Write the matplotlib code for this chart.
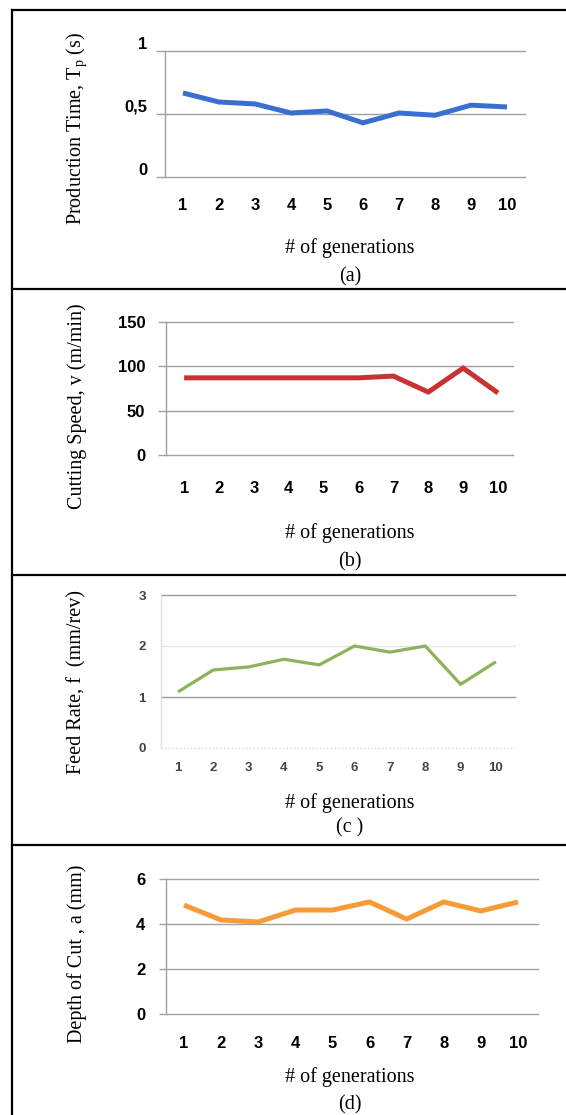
import numpy as np
import matplotlib
matplotlib.use("Agg")
from matplotlib import pyplot as plt
from matplotlib.lines import Line2D
from matplotlib.transforms import ScaledTranslation
from matplotlib import font_manager

plt.rcParams['mathtext.fontset'] = 'custom'
plt.rcParams['mathtext.rm'] = 'Liberation Serif'

generations = np.arange(1, 11)
prod_time = [0.667, 0.595, 0.58, 0.508, 0.524, 0.43, 0.508, 0.49, 0.57, 0.556]
cut_speed = [87, 87, 87, 87, 87, 87, 89, 71, 98, 70]
feed_rate = [1.10, 1.53, 1.59, 1.74, 1.63, 2.0, 1.88, 2.0, 1.25, 1.69]
depth_cut = [4.84, 4.18, 4.09, 4.62, 4.62, 4.98, 4.22, 4.98, 4.58, 4.98]

W, H = 566, 1115
fig = plt.figure(figsize=(W / 100, H / 100), dpi=100)

serif = 'Liberation Serif'
names = {f.name for f in font_manager.fontManager.ttflist}
narrow = [n for n in ['Liberation Sans Narrow', 'DejaVu Sans Condensed'] if n in names]
tickfont = narrow + ['Liberation Sans']
print(narrow)
grid_c = '#a0a0a0'


def px_axes(x0, x1, y0, y1):
    # pixel box (top-left origin) -> figure fraction
    return fig.add_axes([x0 / W, (H - y1) / H, (x1 - x0) / W, (y1 - y0) / H])


def style(ax, yticks, ylabels, xlim, xpad, ypad, ticklen, color, lw, data,
          tcol='black', tsize=12, tweight='bold'):
    ax.plot(generations, data, color=color, lw=lw, solid_capstyle='butt',
            solid_joinstyle='miter', zorder=3)
    ax.set_xlim(*xlim)
    ax.set_ylim(yticks[0], yticks[-1])
    for s in ['top', 'right', 'bottom']:
        ax.spines[s].set_visible(False)
    ax.spines['left'].set_color(grid_c)
    ax.spines['left'].set_linewidth(1.0)
    for y in yticks:
        ax.axhline(y, color=grid_c, lw=1.0, zorder=1, clip_on=False)
    ax.set_xticks(generations)
    ax.set_xticklabels([str(g) for g in generations], fontfamily=tickfont,
                       fontweight=tweight, fontsize=tsize, color=tcol,
                       fontstretch='condensed')
    ax.set_yticks(yticks)
    ax.set_yticklabels(ylabels, fontfamily=tickfont, fontweight=tweight,
                       fontsize=tsize, color=tcol, fontstretch='condensed')
    ax.tick_params(axis='x', length=0, pad=xpad)
    ax.tick_params(axis='y', length=ticklen, width=1.0, color=grid_c, pad=ypad)
    ax.patch.set_alpha(0)


# (a)
ax1 = px_axes(165, 525, 51, 177)
style(ax1, [0, 0.5, 1], ['0', '0,5', '1'], (0.5, 10.5), 15, 6, 6.5,
      '#3a6fd2', 3.6, prod_time)
for lab in ax1.get_yticklabels():
    lab.set_transform(lab.get_transform() + ScaledTranslation(0, 8 / 100, fig.dpi_scale_trans))

# (b)
ax2 = px_axes(166, 513, 322, 455)
style(ax2, [0, 50, 100, 150], ['0', '50', '100', '150'], (0.48, 10.43), 18.5, 9, 6,
      '#c83232', 3.6, cut_speed)

# (c)
ax3 = px_axes(161, 515, 595, 748)
style(ax3, [0, 1, 2, 3], ['0', '1', '2', '3'], (0.52, 10.54), 10, 11, 0,
      '#8db35a', 2.3, feed_rate, tcol='#444444', tsize=9.5)
ax3.spines['left'].set_color('#e0e0e0')
for ln, c in zip(ax3.lines[1:], ['#d8d8d8', '#9a9a9a', '#e4e4e4', '#9a9a9a']):
    ln.set_color(c)
ax3.lines[1].set_linestyle(':')

# (d)
ax4 = px_axes(166, 538, 879, 1014)
style(ax4, [0, 2, 4, 6], ['0', '2', '4', '6'], (0.515, 10.54), 15.5, 10, 5,
      '#f79b38', 3.6, depth_cut)

# axis titles and captions
ylabels = [r'Production Time, T$_\mathregular{p}$ (s)', 'Cutting Speed, v (m/min)',
           'Feed Rate, f  (mm/rev)', 'Depth of Cut , a (mm)']
ycent = [128, 406, 682, 954]
xlab_y = [248, 533, 803, 1077]
caps = ['(a)', '(b)', '(c )', '(d)']
cap_y = [277, 562, 828, 1105]
for lab, yc, xy, cp, cy in zip(ylabels, ycent, xlab_y, caps, cap_y):
    fig.text(77 / W, 1 - yc / H, lab, rotation=90, ha='center', va='center',
             fontfamily=serif, fontsize=14.5)
    fig.text(350 / W, 1 - xy / H, '# of generations', ha='center', va='center',
             fontfamily=serif, fontsize=14.5)
    fig.text(350 / W, 1 - cy / H, cp, ha='center', va='center',
             fontfamily=serif, fontsize=14.5)

# table borders
bw = 1.6
fig.add_artist(Line2D([12 / W, 12 / W], [1 - 10 / H, 0], color='k', lw=bw))
for yb in [10, 289, 575, 845]:
    fig.add_artist(Line2D([12 / W, 1], [1 - yb / H, 1 - yb / H], color='k', lw=bw))

fig.savefig('out.png', dpi=100)
